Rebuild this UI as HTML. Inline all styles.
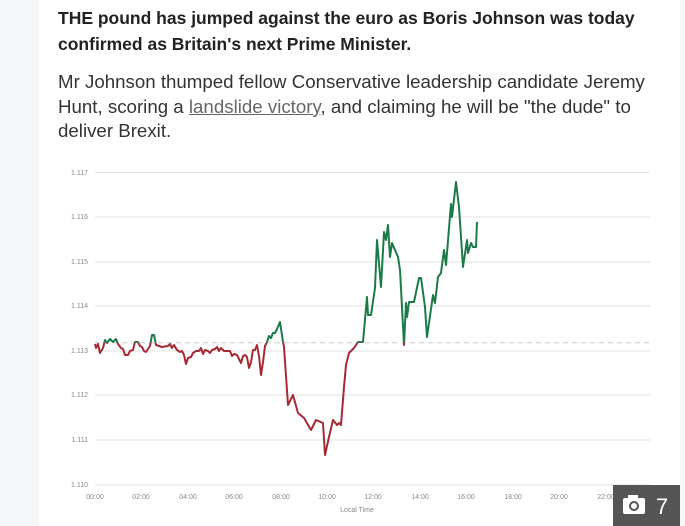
<!DOCTYPE html>
<html><head><meta charset="utf-8"><style>
html,body{margin:0;padding:0;}
body{width:685px;height:526px;background:#f4f6f7;position:relative;overflow:hidden;font-family:"Liberation Sans",sans-serif;}
#main{position:absolute;left:39px;top:0;width:641px;height:526px;background:#fff;}
.t{position:absolute;left:58px;white-space:nowrap;color:#222;}
.h{font-weight:bold;font-size:17.5px;}
.p{font-size:18.7px;color:#333;}
a{color:#666;text-decoration:underline;}
#badge{position:absolute;left:613px;top:485px;width:67px;height:41px;background:#555;color:#fff;font-size:22px;}
</style></head><body>
<div id="main"></div>
<div class="t h" style="top:8px">THE pound has jumped against the euro as Boris Johnson was today</div>
<div class="t h" style="top:34px">confirmed as Britain's next Prime Minister.</div>
<div class="t p" style="top:71px">Mr Johnson thumped fellow Conservative leadership candidate Jeremy</div>
<div class="t p" style="top:96px">Hunt, scoring a <a>landslide victory</a>, and claiming he will be "the dude" to</div>
<div class="t p" style="top:120px">deliver Brexit.</div>
<svg width="685" height="526" style="position:absolute;left:0;top:0">
<defs>
<clipPath id="up"><rect x="0" y="0" width="685" height="342.7"/></clipPath>
<clipPath id="dn"><rect x="0" y="342.7" width="685" height="200"/></clipPath>
</defs>
<g stroke="#e2e2e2" stroke-width="1">
<line x1="95" x2="650" y1="172.5" y2="172.5"/><line x1="95" x2="650" y1="217" y2="217"/>
<line x1="95" x2="650" y1="262" y2="262"/><line x1="95" x2="650" y1="306" y2="306"/>
<line x1="95" x2="650" y1="351" y2="351"/><line x1="95" x2="650" y1="395" y2="395"/>
<line x1="95" x2="650" y1="440" y2="440"/><line x1="95" x2="650" y1="485" y2="485"/>
</g>
<line x1="95" x2="652" y1="342.7" y2="342.7" stroke="#ccc" stroke-dasharray="5,4"/>
<g font-size="7" fill="#888" text-anchor="end">
<text x="88" y="175">1.117</text><text x="88" y="219">1.116</text><text x="88" y="264">1.115</text>
<text x="88" y="308">1.114</text><text x="88" y="353">1.113</text><text x="88" y="397">1.112</text>
<text x="88" y="442">1.111</text><text x="88" y="487">1.110</text>
</g>
<g font-size="7" fill="#888" text-anchor="middle">
<text x="95" y="499">00:00</text><text x="141" y="499">02:00</text><text x="188" y="499">04:00</text>
<text x="234" y="499">06:00</text><text x="281" y="499">08:00</text><text x="327" y="499">10:00</text>
<text x="373" y="499">12:00</text><text x="420" y="499">14:00</text><text x="466" y="499">16:00</text>
<text x="513" y="499">18:00</text><text x="559" y="499">20:00</text><text x="606" y="499">22:00</text>
<text x="357" y="512">Local Time</text>
</g>
<g fill="none" stroke-width="2" stroke-linejoin="round">
<g clip-path="url(#up)"><polyline stroke="#1c7a48" points="95,344 96,348 98,344 100,353 103,348 105,340 107,343 110,339 113,342 116,339 118,344 121,348 123,349 125,355 128,355 130,351 133,350 135,342 138,342 140,346 142,347 144,351 146,352 148,349 150,346 152,335 154,335 156,345 162,347 168,346 170,344 172,348 174,345 177,350 180,352 182,351 184,355 186,364 188,358 191,357 193,353 196,351 199,351 201,348 203,354 205,350 208,351 210,353 212,350 215,349 217,347 219,351 221,348 224,351 227,351 230,351 232,356 234,354 237,355 239,359 241,363 243,356 245,355 247,357 249,368 251,362 253,350 255,350 257,345 259,356 261,375 263,362 265,346 267,342 269,336 271,338 273,333 275,333 277,329 280,322 283,342 284,347 288,405 293,395 298,413 304,418 311,430 316,420 323,423 325,455 329,437 333,420 337,425 339,423 341,425 344,387 346,365 349,353 354,348 358,342 363,342 367,297 368,315 371,315 375,288 377,240 381,287 384,232 386,240 388,225 390,257 392,243 398,257 400,270 404,345 406,303 407,317 409,302 414,302 419,278 421,278 425,307 427,337 433,295 435,303 438,277 441,273 444,250 446,265 451,204 452,217 456,182 459,207 463,267 467,240 468,253 471,243 473,247 476,247 477,222"/></g>
<g clip-path="url(#dn)"><polyline stroke="#a52a35" points="95,344 96,348 98,344 100,353 103,348 105,340 107,343 110,339 113,342 116,339 118,344 121,348 123,349 125,355 128,355 130,351 133,350 135,342 138,342 140,346 142,347 144,351 146,352 148,349 150,346 152,335 154,335 156,345 162,347 168,346 170,344 172,348 174,345 177,350 180,352 182,351 184,355 186,364 188,358 191,357 193,353 196,351 199,351 201,348 203,354 205,350 208,351 210,353 212,350 215,349 217,347 219,351 221,348 224,351 227,351 230,351 232,356 234,354 237,355 239,359 241,363 243,356 245,355 247,357 249,368 251,362 253,350 255,350 257,345 259,356 261,375 263,362 265,346 267,342 269,336 271,338 273,333 275,333 277,329 280,322 283,342 284,347 288,405 293,395 298,413 304,418 311,430 316,420 323,423 325,455 329,437 333,420 337,425 339,423 341,425 344,387 346,365 349,353 354,348 358,342 363,342 367,297 368,315 371,315 375,288 377,240 381,287 384,232 386,240 388,225 390,257 392,243 398,257 400,270 404,345 406,303 407,317 409,302 414,302 419,278 421,278 425,307 427,337 433,295 435,303 438,277 441,273 444,250 446,265 451,204 452,217 456,182 459,207 463,267 467,240 468,253 471,243 473,247 476,247 477,222"/></g>
</g>
</svg>
<div id="badge">
<svg width="67" height="41" style="position:absolute;left:0;top:0">
<rect x="10" y="13" width="22" height="16" rx="2" fill="#fff"/><rect x="15" y="10" width="10" height="4" fill="#fff"/>
<circle cx="21" cy="21" r="5" fill="#555"/><circle cx="21" cy="21" r="3" fill="#fff"/>
<text x="49" y="29" font-size="22" fill="#fff" text-anchor="middle" font-family="Liberation Sans, sans-serif">7</text>
</svg>
</div>
</body></html>
